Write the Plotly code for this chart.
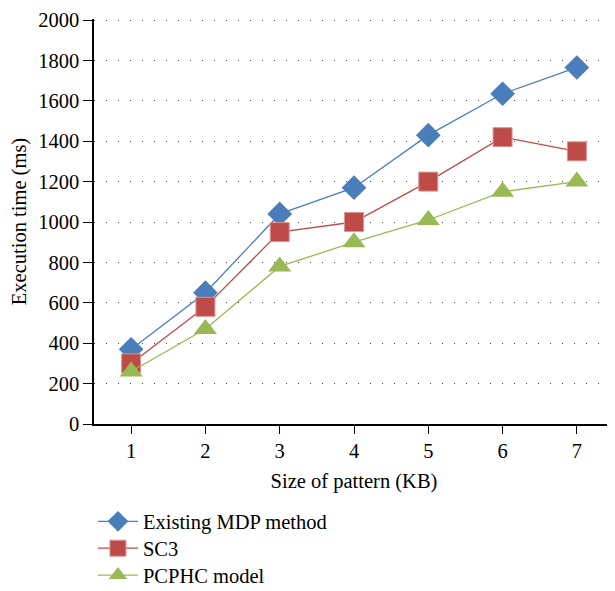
import plotly.graph_objects as go

categories = [1, 2, 3, 4, 5, 6, 7]
mdp = [370, 650, 1040, 1170, 1430, 1635, 1765]
sc3 = [300, 580, 950, 1000, 1200, 1420, 1350]
pcphc = [260, 470, 780, 900, 1010, 1150, 1200]
y_ticks = list(range(0, 2001, 200))

FONT = "Liberation Serif"
FS = 20.5

fig = go.Figure()
fig.add_trace(go.Scatter(x=categories, y=mdp, mode="lines+markers", name="Existing MDP method",
                         legend="legend",
                         line=dict(color="#4A7EBB", width=1.3),
                         marker=dict(symbol="diamond", size=19, color="#4A7EBB")))
fig.add_trace(go.Scatter(x=categories, y=sc3, mode="lines+markers", name="SC3",
                         legend="legend2",
                         line=dict(color="#BE4B48", width=1.3),
                         marker=dict(symbol="square", size=19, color="#BE4B48",
                                     line=dict(color="#D99694", width=1))))
fig.add_trace(go.Scatter(x=categories, y=pcphc, mode="lines+markers", name="PCPHC model",
                         legend="legend3",
                         line=dict(color="#98B954", width=1.3),
                         marker=dict(symbol="triangle-up", size=20, color="#98B954")))

def leg(y):
    return dict(orientation="v", x=-0.002, y=y, xanchor="left", yanchor="middle",
                font=dict(family=FONT, size=FS), itemwidth=40,
                bgcolor="rgba(0,0,0,0)")

fig.update_layout(
    width=607, height=640,
    margin=dict(l=86, r=1, t=8, b=224),
    paper_bgcolor="white", plot_bgcolor="white",
    font=dict(family=FONT, size=FS, color="black"),
    showlegend=True,
    legend=leg(-0.2408),
    legend2=leg(-0.3071),
    legend3=leg(-0.3735),
    xaxis=dict(
        range=[0.5, 7.5], tickvals=categories, ticktext=[str(c) for c in categories],
        tickson="boundaries", ticks="outside", ticklen=8, tickwidth=1, tickcolor="black",
        showline=True, linecolor="black", linewidth=1.5, showgrid=False, zeroline=False,
        title=dict(text="Size of pattern (KB)", font=dict(family=FONT, size=FS), standoff=12),
        tickfont=dict(family=FONT, size=FS), ticklabeloverflow="allow",
    ),
    yaxis=dict(
        range=[0, 2005], tickvals=y_ticks, ticks="outside", ticklen=9, tickwidth=1,
        tickcolor="black", showline=True, linecolor="black", linewidth=1.5,
        showgrid=True, gridcolor="#444444", gridwidth=1, griddash="1px,11px",
        zeroline=False, ticklabeloverflow="allow",
        title=dict(text="Execution time (ms)", font=dict(family=FONT, size=FS), standoff=8),
        tickfont=dict(family=FONT, size=FS),
    ),
)

fig.write_html("out.html")
